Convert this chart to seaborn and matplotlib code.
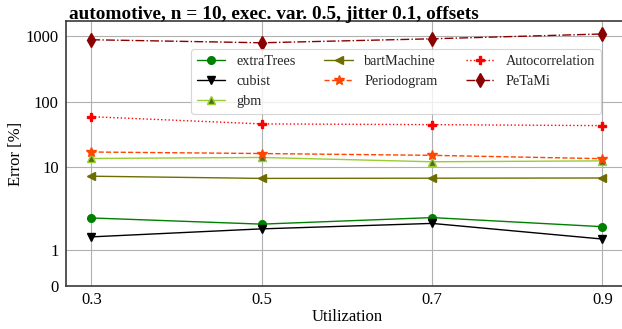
import matplotlib
matplotlib.use("Agg")
import matplotlib.pyplot as plt
import seaborn as sns
import pandas as pd

# Mean prediction error per utilization level
utilization = [0.3, 0.5, 0.7, 0.9]
extra_trees = [1.87, 1.70, 1.88, 1.63]
cubist = [1.35, 1.57, 1.72, 1.29]
gbm = [13.7, 14.2, 12.2, 12.6]
bart_machine = [7.35, 6.8, 6.85, 6.9]
periodogram = [17.2, 16.3, 15.3, 13.6]
autocorrelation = [59.5, 46.2, 45.0, 43.5]
petami = [890, 800, 920, 1090]

x_ticks = [0.3, 0.5, 0.7, 0.9]
y_ticks = [0, 1, 10, 100, 1000]
y_tick_labels = ["0", "1", "10", "100", "1000"]

series = [
    ("extraTrees", extra_trees, dict(color="#008000", marker="o", linestyle="-", markersize=5.5,
                                     markeredgecolor="#008000")),
    ("cubist", cubist, dict(color="black", marker="v", linestyle="-", markersize=6,
                            markeredgecolor="black")),
    ("gbm", gbm, dict(color="#9acd32", marker="^", linestyle="-", markersize=6,
                      markerfacecolor="#4f6b1f", markeredgecolor="#9acd32")),
    ("bartMachine", bart_machine, dict(color="#6e6e00", marker="<", linestyle="-", markersize=6,
                                       markeredgecolor="#6e6e00")),
    ("Periodogram", periodogram, dict(color="orangered", marker="*", linestyle="--", markersize=7.5,
                                      markeredgecolor="orangered")),
    ("Autocorrelation", autocorrelation, dict(color="red", marker="P", linestyle=":", markersize=5.5,
                                              markeredgecolor="red")),
    ("PeTaMi", petami, dict(color="#8b0000", marker="d", linestyle="-.", markersize=7,
                            markeredgecolor="#8b0000")),
]

sns.set_theme(style="whitegrid")
plt.rcParams["font.family"] = ["serif"]
plt.rcParams["font.serif"] = ["Liberation Serif", "DejaVu Serif"]
plt.rcParams["mathtext.fontset"] = "stix"

W, H = 622, 329
fig = plt.figure(figsize=(W / 100, H / 100), dpi=100)
ax = fig.add_axes([65.7 / W, 1 - 286 / H, (628 - 65.7) / W, (286 - 21) / H])

for name, values, style in series:
    df = pd.DataFrame({"Utilization": utilization, "Error": values})
    sns.lineplot(data=df, x="Utilization", y="Error", ax=ax, label=name,
                 linewidth=1.0, markeredgewidth=1.0, **style)

ax.set_yscale("symlog", linthresh=2, linscale=1)
ax.set_ylim(0, 1720)
ax.set_xlim(0.27, 0.93)
ax.set_xticks(x_ticks)
ax.set_xticklabels([f"{v:.1f}" for v in x_ticks])
ax.set_yticks(y_ticks)
ax.set_yticklabels(y_tick_labels)
ax.yaxis.set_minor_locator(matplotlib.ticker.NullLocator())

ax.grid(True, color="#b0b0b0", linewidth=0.8)
ax.tick_params(axis="both", length=0, labelsize=12, colors="black")
ax.tick_params(axis="y", pad=5)
ax.tick_params(axis="x", pad=4)
for side in ["left", "bottom", "top", "right"]:
    ax.spines[side].set_color("#3a3a3a")
    ax.spines[side].set_linewidth(1.2)

ax.set_xlabel("Utilization", fontsize=12, labelpad=1, color="black")
ax.set_ylabel("Error [%]", fontsize=12, labelpad=1, color="black")

fig.text(69 / W, 1 - 19 / H, "automotive, n = 10, exec. var. 0.5, jitter 0.1, offsets",
         fontsize=13.9, fontweight="bold", ha="left", va="baseline", color="black")

leg = ax.legend(ncol=3, loc="upper right", bbox_to_anchor=(601 / W, 1 - 49 / H),
                bbox_transform=fig.transFigure, borderaxespad=0, fontsize=10.25,
                frameon=True, fancybox=True, framealpha=0.8, edgecolor="#cccccc")
leg.get_frame().set_linewidth(0.8)

fig.savefig("out.png", dpi=100)
